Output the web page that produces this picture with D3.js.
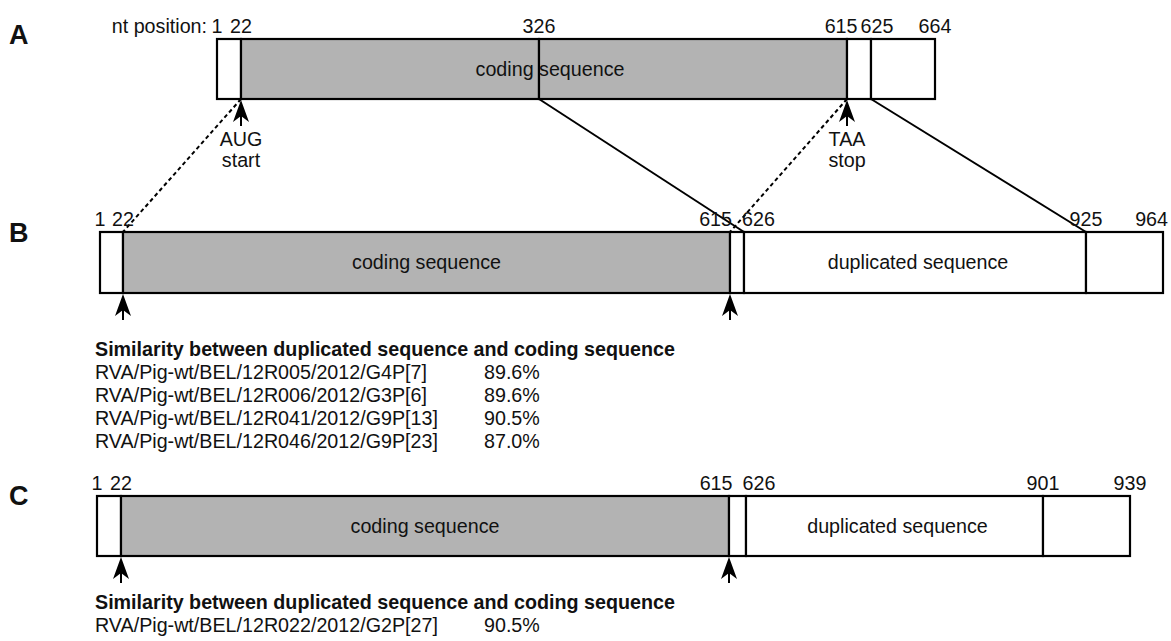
<!DOCTYPE html>
<html>
<head>
<meta charset="utf-8">
<script src="https://cdn.jsdelivr.net/npm/d3@7"></script>
<style>
  html, body { margin: 0; padding: 0; background: #fff; }
  svg { display: block; }
  text { font-family: "Liberation Sans", Arial, Helvetica, sans-serif; fill: #111; }
</style>
</head>
<body>
<svg id="chart" width="1171" height="641"></svg>
<script>
// ---------------- DATA ----------------
const panelNames = ["A", "B", "C"];
// nucleotide boundaries of each segment (nt positions)
const ntA = [1, 22, 326, 615, 625, 664];
const ntB = [1, 22, 615, 626, 925, 964];
const ntC = [1, 22, 615, 626, 901, 939];
// segment kinds between consecutive boundaries
const kindsA = ["utr", "cds", "cds", "utr", "utr"];
const kindsB = ["utr", "cds", "utr", "dup", "utr"];
const kindsC = ["utr", "cds", "utr", "dup", "utr"];
const codingLabel = "coding sequence";
const dupLabel = "duplicated sequence";
const startCodon = ["AUG", "start"];
const stopCodon = ["TAA", "stop"];
const cdsStart = 22, cdsStop = 615;
// correspondences A -> B (nt in A, nt in B, dashed?)
const linkFrom = [22, 326, 615, 625];
const linkTo   = [22, 626, 615, 925];
const linkDash = [true, false, true, false];
const simTitle = "Similarity between duplicated sequence and coding sequence";
const strainsB = ["RVA/Pig-wt/BEL/12R005/2012/G4P[7]", "RVA/Pig-wt/BEL/12R006/2012/G3P[6]",
                  "RVA/Pig-wt/BEL/12R041/2012/G9P[13]", "RVA/Pig-wt/BEL/12R046/2012/G9P[23]"];
const simB = [89.6, 89.6, 90.5, 87.0];
const strainsC = ["RVA/Pig-wt/BEL/12R022/2012/G2P[27]"];
const simC = [90.5];

// ---------------- LAYOUT ----------------
const FS = 19.7;
const W = 1171;
const svg = d3.select("#chart");
// schematic (not-to-scale) piecewise scales: nt -> px
const layout = {
  A: { nt: ntA, kinds: kindsA, px: [217, 241, 539, 847, 871, 935], top: 39, h: 60, letter: 44, gap: 3 },
  B: { nt: ntB, kinds: kindsB, px: [100, 123, 730, 744, 1086, 1163], top: 232, h: 61, letter: 242, gap: 10 },
  C: { nt: ntC, kinds: kindsC, px: [97, 121, 729, 746, 1043, 1130], top: 496, h: 60, letter: 505, gap: 10 }
};
const fills = { utr: "#ffffff", cds: "#b3b3b3", dup: "#ffffff" };

Object.keys(layout).forEach(k => {
  const L = layout[k];
  L.x = d3.scaleLinear().domain(L.nt).range(L.px);
  L.y = d3.scaleLinear().domain([0, 1]).range([L.top, L.top + L.h]);
});

const gLinks = svg.append("g");
const gBoxes = svg.append("g");
const gText = svg.append("g");

// panel letters
panelNames.forEach(p => {
  gText.append("text").attr("x", 9).attr("y", layout[p].letter)
    .attr("font-size", 27).attr("font-weight", "bold").text(p);
});

function drawPanel(key) {
  const L = layout[key];
  const segs = d3.range(L.kinds.length).map(i => ({ a: L.nt[i], b: L.nt[i + 1], kind: L.kinds[i] }));
  gBoxes.selectAll(null).data(segs).enter().append("rect")
    .attr("x", d => L.x(d.a)).attr("y", L.y(0))
    .attr("width", d => L.x(d.b) - L.x(d.a)).attr("height", L.y(1) - L.y(0))
    .attr("fill", d => fills[d.kind]).attr("stroke", "#000").attr("stroke-width", 2.2);

  // in-box labels
  gText.append("text").attr("x", (L.x(cdsStart) + L.x(cdsStop)) / 2 + (key === "A" ? 6 : 0))
    .attr("y", L.y(0.5)).attr("dy", "0.35em").attr("text-anchor", "middle")
    .attr("font-size", FS).text(codingLabel);
  const di = L.kinds.indexOf("dup");
  if (di >= 0) {
    gText.append("text").attr("x", (L.x(L.nt[di]) + L.x(L.nt[di + 1])) / 2 + 3)
      .attr("y", L.y(0.5)).attr("dy", "0.35em").attr("text-anchor", "middle")
      .attr("font-size", FS).text(dupLabel);
  }

  // boundary labels with collision push
  const w = s => String(s).length * 0.556 * FS;
  const labs = L.nt.map(n => ({ n, cx: L.x(n), w: w(n) }));
  for (let i = 1; i < labs.length - 1; i++) {
    const a = labs[i], b = labs[i + 1];
    const ov = (a.cx + a.w / 2) - (b.cx - b.w / 2) + L.gap;
    if (ov > 0) { a.cx -= ov / 2; b.cx += ov / 2; }
  }
  labs.forEach(d => { d.cx = Math.min(d.cx, W - 3 - d.w / 2); });
  gText.selectAll(null).data(labs).enter().append("text")
    .attr("x", d => d.cx).attr("y", L.y(0) - 6).attr("text-anchor", "middle")
    .attr("font-size", FS).text(d => d.n);

  // arrows at start/stop codons
  [cdsStart, cdsStop].forEach(n => {
    const x = L.x(n), y0 = L.y(1) + 1;
    gBoxes.append("line").attr("x1", x).attr("x2", x).attr("y1", y0 + 14).attr("y2", y0 + 26)
      .attr("stroke", "#000").attr("stroke-width", 2);
    gBoxes.append("path")
      .attr("d", `M${x},${y0} L${x + 8},${y0 + 22} L${x},${y0 + 16} L${x - 8},${y0 + 22} Z`)
      .attr("fill", "#000");
  });
}
["A", "B", "C"].forEach(drawPanel);

// A extras
const A = layout.A, B = layout.B, C = layout.C;
gText.append("text").attr("x", A.x(1) - 10).attr("y", A.y(0) - 6).attr("text-anchor", "end")
  .attr("font-size", FS).text("nt position:");
[[cdsStart, startCodon], [cdsStop, stopCodon]].forEach(([n, words]) => {
  words.forEach((t, i) => {
    gText.append("text").attr("x", A.x(n)).attr("y", A.y(1) + 47 + i * 21)
      .attr("text-anchor", "middle").attr("font-size", FS).text(t);
  });
});

// links between A and B
linkFrom.forEach((f, i) => {
  gLinks.append("line")
    .attr("x1", A.x(f)).attr("y1", A.y(1))
    .attr("x2", B.x(linkTo[i])).attr("y2", B.y(0))
    .attr("stroke", "#000").attr("stroke-width", 2)
    .attr("stroke-dasharray", linkDash[i] ? "4,3" : null);
});

// similarity tables
function simTable(y0, strains, sims) {
  gText.append("text").attr("x", 95).attr("y", y0).attr("font-size", FS)
    .attr("font-weight", "bold").text(simTitle);
  strains.forEach((s, i) => {
    const y = y0 + 23 * (i + 1);
    gText.append("text").attr("x", 95).attr("y", y).attr("font-size", FS).text(s);
    gText.append("text").attr("x", 484).attr("y", y).attr("font-size", FS)
      .text(d3.format(".1f")(sims[i]) + "%");
  });
}
simTable(356, strainsB, simB);
simTable(609, strainsC, simC);
</script>
</body>
</html>
